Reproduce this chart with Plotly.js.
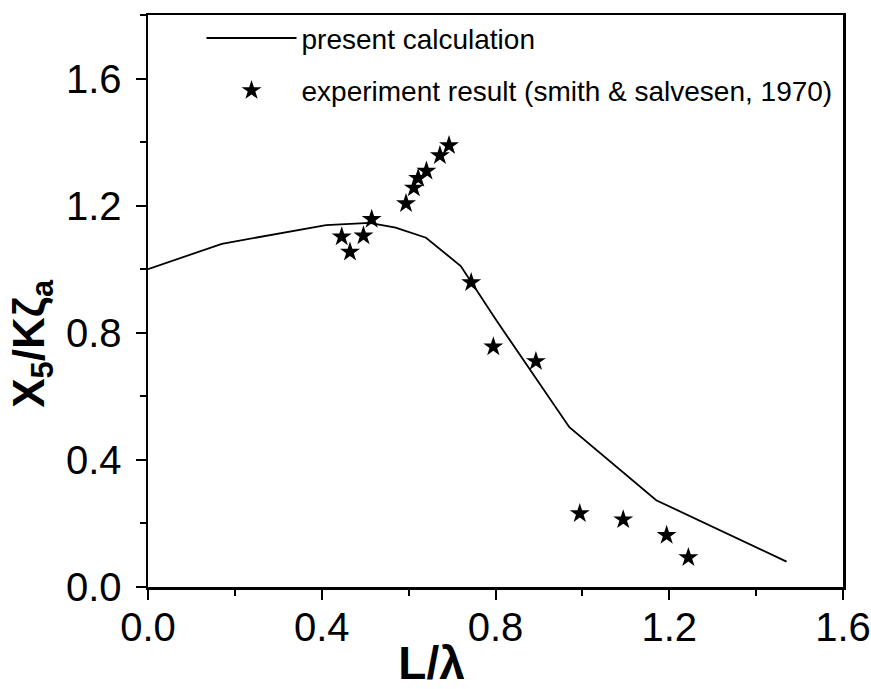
<!DOCTYPE html>
<html>
<head>
<meta charset="utf-8">
<script src="https://cdn.plot.ly/plotly-3.0.1.min.js"></script>
<style>html,body{margin:0;padding:0;background:#fff;}#chart{width:871px;height:689px;}</style>
</head>
<body>
<div id="chart"></div>
<script>
// Present calculation (solid line)
const calcX = [0.0, 0.17, 0.41, 0.51, 0.57, 0.64, 0.72, 0.80, 0.97, 1.17, 1.47];
const calcY = [1.0, 1.08, 1.139, 1.146, 1.131, 1.099, 1.010, 0.843, 0.503, 0.273, 0.080];
// Experiment result (Smith & Salvesen, 1970)
const expX = [0.446, 0.465, 0.496, 0.515, 0.594, 0.612, 0.622, 0.641, 0.672, 0.693, 0.744, 0.795, 0.893, 0.994, 1.094, 1.194, 1.244];
const expY = [1.102, 1.054, 1.105, 1.157, 1.207, 1.256, 1.286, 1.309, 1.358, 1.389, 0.958, 0.756, 0.710, 0.231, 0.212, 0.163, 0.093];
const xTicks = [0.0, 0.4, 0.8, 1.2, 1.6];
const yTicks = [0.0, 0.4, 0.8, 1.2, 1.6];
const xLabels = ["0.0", "0.4", "0.8", "1.2", "1.6"];
const yLabels = ["0.0", "0.4", "0.8", "1.2", "1.6"];

const FONT = 'Liberation Sans, Arial, sans-serif';
const traces = [
  {x: calcX, y: calcY, mode: 'lines', name: 'present calculation', legendgroup: 'a',
   line: {color: '#000', width: 1.8}},
  {x: expX, y: expY, mode: 'markers', name: 'experiment result (smith &amp; salvesen, 1970)', legendgroup: 'b',
   marker: {symbol: 'star', size: 15, color: '#000'}}
];

const axisCommon = {
  showline: true, linecolor: '#000', linewidth: 2.5, mirror: true,
  ticks: 'outside', ticklen: 10, tickwidth: 2, tickcolor: '#000',
  showgrid: false, zeroline: false, ticklabeloverflow: 'allow',
  tickfont: {family: FONT, size: 40, color: '#000'},
  minor: {ticks: 'outside', ticklen: 6, tickwidth: 2, tickcolor: '#000', dtick: 0.2}
};

const pad = n => '&nbsp;'.repeat(n);

const layout = {
  width: 871, height: 689,
  margin: {l: 148, r: 28, t: 15, b: 102},
  paper_bgcolor: '#fff', plot_bgcolor: '#fff',
  showlegend: true,
  legend: {x: 0.077, y: 1.003, xanchor: 'left', yanchor: 'top', traceorder: 'grouped',
    bgcolor: 'rgba(0,0,0,0)', borderwidth: 0, itemwidth: 90, tracegroupgap: 13,
    font: {family: FONT, size: 28, color: '#000'}},
  xaxis: Object.assign({}, axisCommon, {
    range: [0, 1.6], tickmode: 'array', tickvals: xTicks, ticktext: xLabels,
    ticklabelstandoff: -7,
    title: {text: '<b>L/λ</b>' + pad(10), standoff: 12,
      font: {family: FONT, size: 46, color: '#000'}}
  }),
  yaxis: Object.assign({}, axisCommon, {
    range: [0, 1.8], tickmode: 'array', tickvals: yTicks, ticktext: yLabels,
    ticklabelstandoff: 6,
    title: {text: '<b>X<sub>5</sub>/Kζ<sub>a</sub></b>' + pad(7), standoff: 8,
      font: {family: FONT, size: 44, color: '#000'}}
  })
};

Plotly.newPlot('chart', traces, layout, {displayModeBar: false, staticPlot: true});
</script>
</body>
</html>
